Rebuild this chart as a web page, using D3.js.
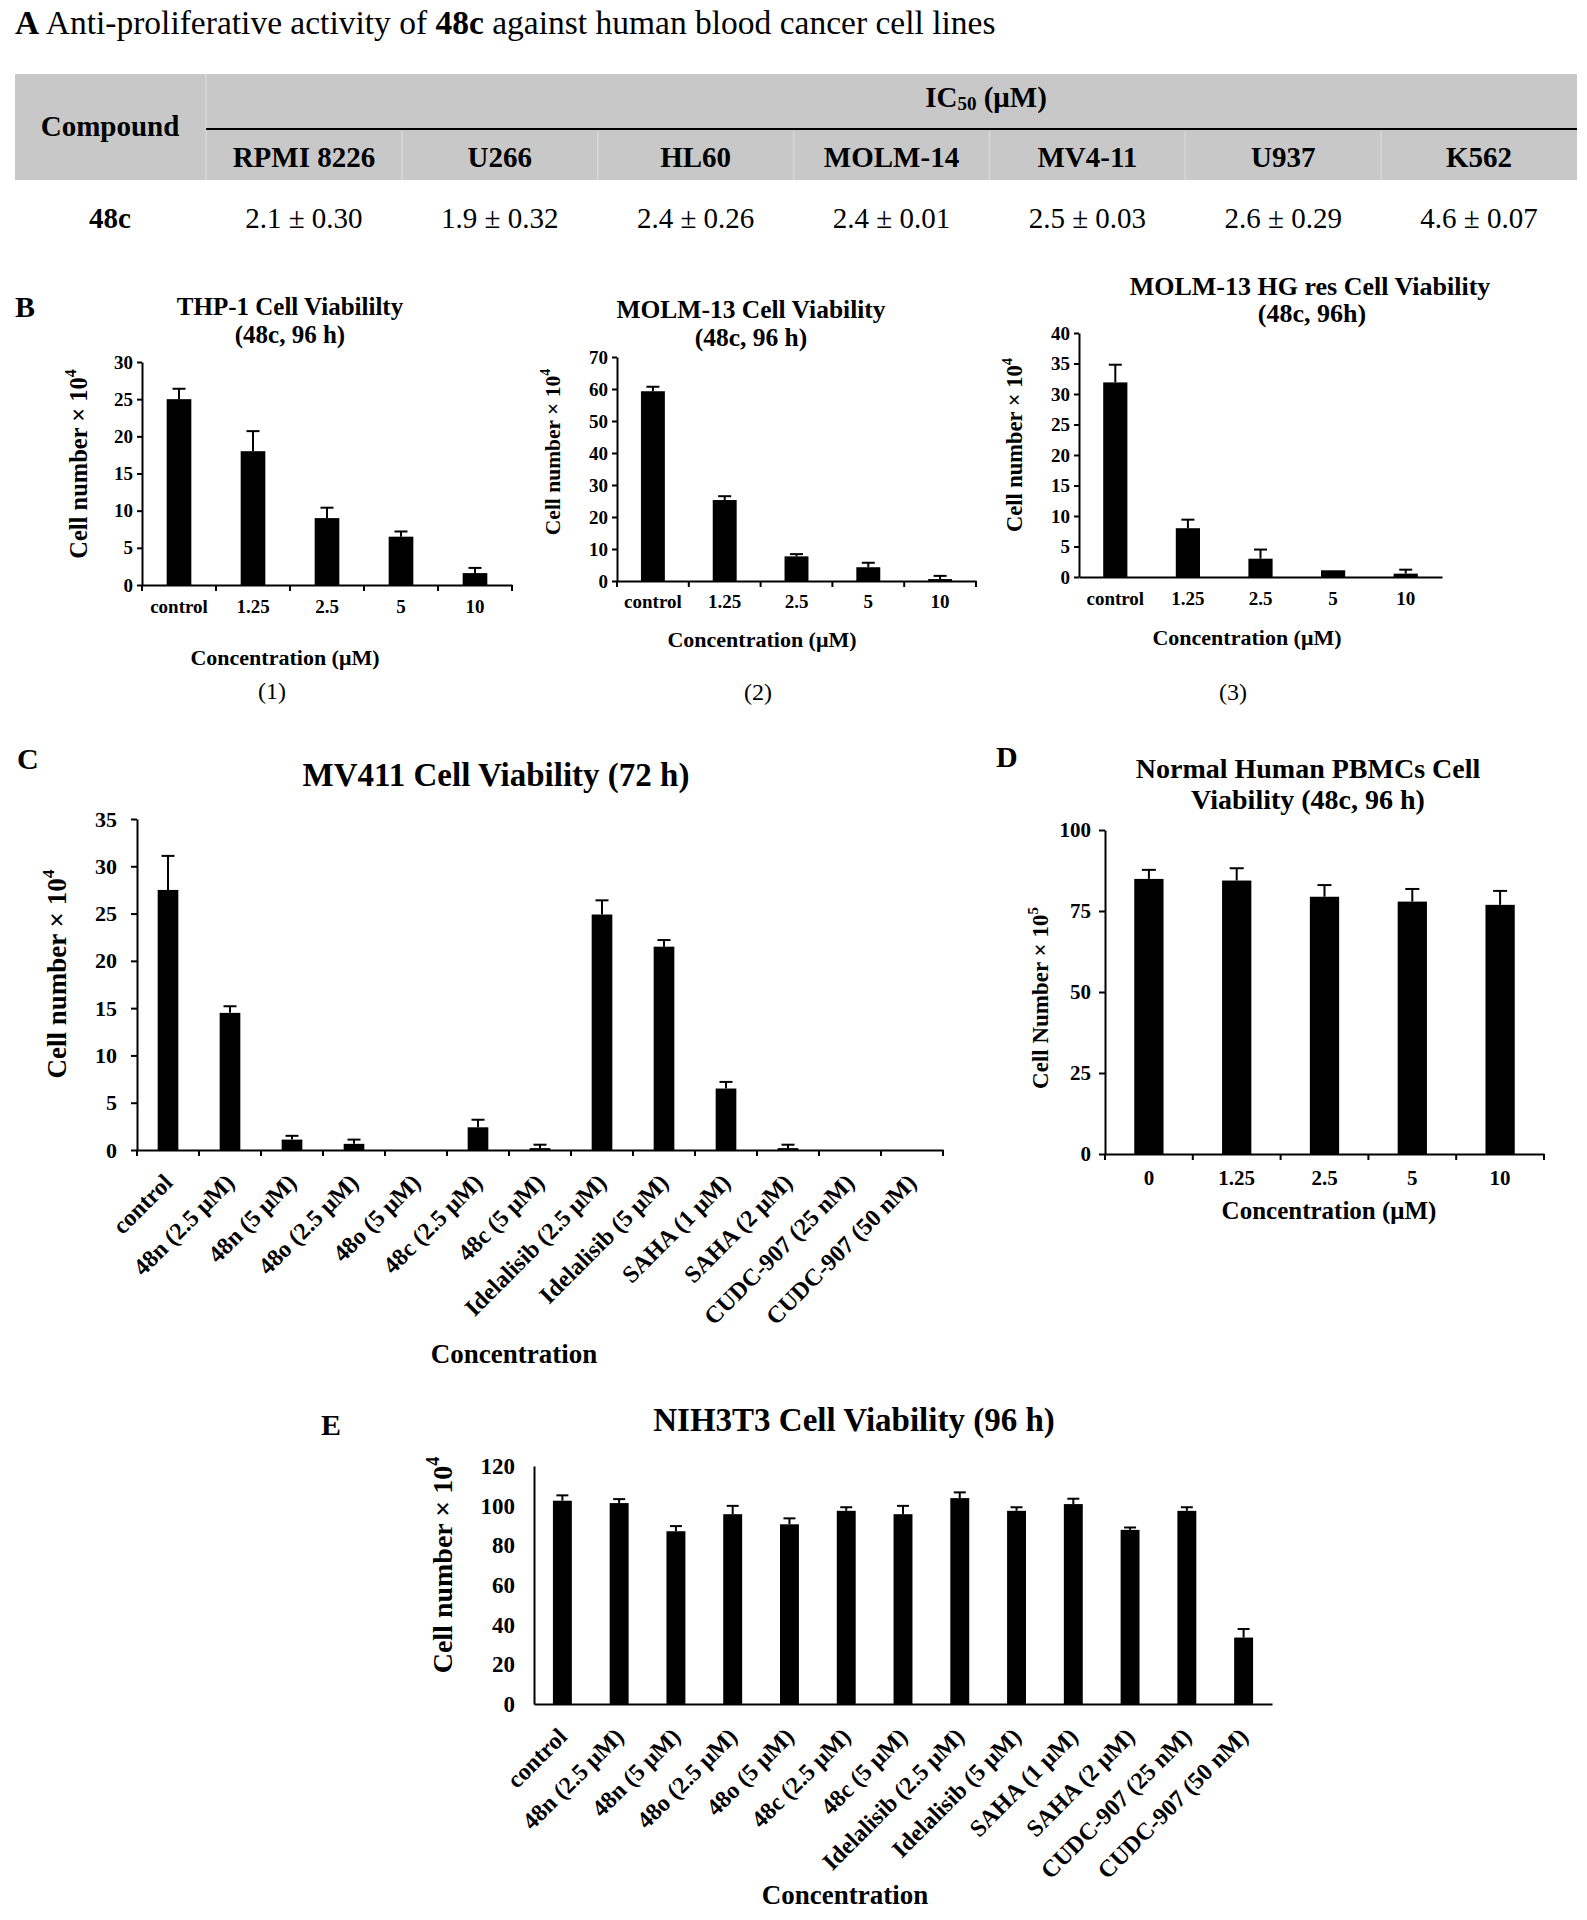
<!DOCTYPE html>
<html><head><meta charset="utf-8">
<script src="https://cdn.jsdelivr.net/npm/d3@7"></script>
<style>
body{margin:0;background:#fff}
svg{display:block}
text{font-family:"Liberation Serif","Times New Roman",serif;fill:#000}
</style>
</head><body>
<svg id="c" width="1587" height="1920"></svg>
<script>
// ---------- DATA ----------
const tableCellLines = ["RPMI 8226","U266","HL60","MOLM-14","MV4-11","U937","K562"];
const tableIC50 = ["2.1 ± 0.30","1.9 ± 0.32","2.4 ± 0.26","2.4 ± 0.01","2.5 ± 0.03","2.6 ± 0.29","4.6 ± 0.07"];

const doseCats = ["control","1.25","2.5","5","10"];
const thp1Values = [25.0,18.0,9.0,6.5,1.6];
const thp1Errors = [1.4,2.7,1.4,0.7,0.7];
const thp1Ticks = [0,5,10,15,20,25,30];

const molm13Values = [59.3,25.3,7.7,4.3,0.6];
const molm13Errors = [1.4,1.2,0.7,1.4,1.0];
const molm13Ticks = [0,10,20,30,40,50,60,70];

const molm13resValues = [31.9,8.0,3.0,1.1,0.55];
const molm13resErrors = [2.9,1.4,1.5,0,0.65];
const molm13resTicks = [0,5,10,15,20,25,30,35,40];

const treatmentCats = ["control","48n (2.5 μM)","48n (5 μM)","48o (2.5 μM)","48o (5 μM)","48c (2.5 μM)","48c (5 μM)","Idelalisib (2.5 μM)","Idelalisib (5 μM)","SAHA (1 μM)","SAHA (2 μM)","CUDC-907 (25 nM)","CUDC-907 (50 nM)"];
const mv411Values = [27.5,14.5,1.1,0.65,0,2.4,0.2,24.9,21.5,6.5,0.2,0,0];
const mv411Errors = [3.6,0.7,0.4,0.45,0,0.8,0.36,1.5,0.7,0.7,0.36,0,0];
const mv411Ticks = [0,5,10,15,20,25,30,35];

const pbmcCats = ["0","1.25","2.5","5","10"];
const pbmcValues = [84.9,84.4,79.4,77.9,76.9];
const pbmcErrors = [2.8,3.8,3.6,3.9,4.3];
const pbmcTicks = [0,25,50,75,100];

const nih3t3Values = [102.5,101.3,87.1,95.7,90.6,97.4,95.7,103.8,97.4,100.8,87.8,97.4,33.5];
const nih3t3Errors = [2.7,2.0,2.6,4.2,3.0,1.8,4.2,2.9,1.8,2.7,1.2,1.8,4.3];
const nih3t3Ticks = [0,20,40,60,80,100,120];

// ---------- DRAWING ----------
const FONT = "Liberation Serif, Times New Roman, serif";
const svg = d3.select("#c");

function txt(x, y, s, size, weight, anchor) {
  return svg.append("text").attr("x", x).attr("y", y)
    .attr("font-size", size).attr("font-weight", weight || "normal")
    .attr("text-anchor", anchor || "middle").text(s);
}
function ylabel(cx, cy, size, base, sup) {
  const t = svg.append("text")
    .attr("transform", `translate(${cx},${cy}) rotate(-90)`)
    .attr("text-anchor", "middle").attr("dy", "0.35em")
    .attr("font-size", size).attr("font-weight", "bold");
  t.append("tspan").text(base);
  t.append("tspan").attr("font-size", size * 0.65).attr("dy", -size * 0.45).text(sup);
}

// Title A
const tA = svg.append("text").attr("x", 15).attr("y", 34).attr("font-size", 33.5);
tA.append("tspan").attr("font-weight", "bold").text("A");
tA.append("tspan").text(" Anti-proliferative activity of ");
tA.append("tspan").attr("font-weight", "bold").text("48c");
tA.append("tspan").text(" against human blood cancer cell lines");

// Table
svg.append("rect").attr("x", 15).attr("y", 74).attr("width", 1562).attr("height", 106).attr("fill", "#c8c8c8");
const colX = d3.scaleBand().domain(tableCellLines).range([206, 1577]);
svg.append("line").attr("x1", 206).attr("x2", 206).attr("y1", 74).attr("y2", 180)
  .attr("stroke", "#d8d8d8").attr("stroke-width", 1.5);
tableCellLines.slice(1).forEach(c => {
  svg.append("line").attr("x1", colX(c)).attr("x2", colX(c)).attr("y1", 131).attr("y2", 180)
    .attr("stroke", "#d8d8d8").attr("stroke-width", 1.5);
});
svg.append("line").attr("x1", 206).attr("x2", 1577).attr("y1", 129).attr("y2", 129)
  .attr("stroke", "#000").attr("stroke-width", 2);
txt(110, 136, "Compound", 29, "bold");
const ic = svg.append("text").attr("x", 986).attr("y", 107).attr("font-size", 29)
  .attr("font-weight", "bold").attr("text-anchor", "middle");
ic.append("tspan").text("IC");
ic.append("tspan").attr("font-size", 19).attr("dy", 3).text("50");
ic.append("tspan").attr("dy", -3).text(" (μM)");
tableCellLines.forEach((c, i) => {
  txt(colX(c) + colX.bandwidth() / 2, 167, c, 29, "bold");
  txt(colX(c) + colX.bandwidth() / 2, 228, tableIC50[i], 29, "normal");
});
txt(110, 228, "48c", 29, "bold");

// Bar chart helper
function barChart(o) {
  const g = svg.append("g");
  const x = d3.scaleBand().domain(o.cats).range([o.x0, o.x1]).paddingInner(2 / 3).paddingOuter(1 / 3);
  const y = d3.scaleLinear().domain([0, d3.max(o.ticks)]).range([o.yBot, o.yTop]);
  const rows = o.cats.map((c, i) => ({ c, v: o.vals[i], e: o.errs[i] }));
  g.selectAll("rect.bar").data(rows.filter(d => d.v > 0))
    .enter().append("rect")
    .attr("x", d => x(d.c)).attr("width", x.bandwidth())
    .attr("y", d => y(d.v)).attr("height", d => y(0) - y(d.v)).attr("fill", "#000");
  const eb = rows.filter(d => d.e > 0);
  const cx = d => x(d.c) + x.bandwidth() / 2;
  g.selectAll("line.eb").data(eb).enter().append("line")
    .attr("x1", cx).attr("x2", cx)
    .attr("y1", d => y(d.v)).attr("y2", d => y(d.v + d.e)).attr("stroke", "#000").attr("stroke-width", 2);
  g.selectAll("line.cap").data(eb).enter().append("line")
    .attr("x1", d => cx(d) - o.capW / 2).attr("x2", d => cx(d) + o.capW / 2)
    .attr("y1", d => y(d.v + d.e)).attr("y2", d => y(d.v + d.e)).attr("stroke", "#000").attr("stroke-width", 2);
  // y axis
  const ya = g.append("g").attr("transform", `translate(${o.x0},0)`)
    .call(d3.axisLeft(y).tickValues(o.ticks).tickSize(o.yTickLen).tickSizeOuter(0).tickPadding(o.yPad));
  ya.attr("font-family", FONT).attr("font-size", o.yFont).attr("font-weight", "bold");
  ya.selectAll("path,line").attr("stroke", "#000").attr("stroke-width", 2);
  ya.selectAll("text").attr("fill", "#000");
  // x axis
  const xa = g.append("g").attr("transform", `translate(0,${o.yBot})`)
    .call(d3.axisBottom(x).tickSize(0).tickSizeOuter(0).tickPadding(o.xPad));
  xa.attr("font-family", FONT).attr("font-size", o.xFont).attr("font-weight", "bold");
  xa.select(".domain").attr("stroke", "#000").attr("stroke-width", 2);
  xa.selectAll("text").attr("fill", "#000");
  if (o.rotate) {
    xa.selectAll(".tick text").attr("y", 0).attr("dy", null).attr("text-anchor", "end")
      .attr("transform", `translate(${o.rotDx},${o.rotDy}) rotate(-45)`);
  }
  if (o.xTickLen > 0) {
    d3.range(o.cats.length + 1).forEach(i => {
      const px = o.x0 + i * x.step();
      g.append("line").attr("x1", px).attr("x2", px).attr("y1", o.yBot).attr("y2", o.yBot + o.xTickLen)
        .attr("stroke", "#000").attr("stroke-width", 2);
    });
  }
}

// ---------- Panel B ----------
txt(15, 317, "B", 30, "bold", "start");

// B1
txt(290, 315, "THP-1 Cell Viabililty", 25, "bold");
txt(290, 343, "(48c, 96 h)", 25, "bold");
barChart({ cats: doseCats, vals: thp1Values, errs: thp1Errors, ticks: thp1Ticks,
  x0: 142, x1: 512, yTop: 362, yBot: 585, yTickLen: 5, yPad: 4, yFont: 19,
  xPad: 15, xFont: 19, xTickLen: 6, capW: 13 });
ylabel(78, 464, 24.5, "Cell number × 10", "4");
txt(285, 665, "Concentration (μM)", 22, "bold");
txt(272, 699, "(1)", 24, "normal");

// B2
txt(751, 318, "MOLM-13 Cell Viability", 25.5, "bold");
txt(751, 346, "(48c, 96 h)", 25.5, "bold");
barChart({ cats: doseCats, vals: molm13Values, errs: molm13Errors, ticks: molm13Ticks,
  x0: 617, x1: 976, yTop: 357, yBot: 581, yTickLen: 5, yPad: 4, yFont: 19,
  xPad: 14, xFont: 19, xTickLen: 6, capW: 13 });
ylabel(552, 452, 21.5, "Cell number × 10", "4");
txt(762, 647, "Concentration (μM)", 22, "bold");
txt(758, 700, "(2)", 24, "normal");

// B3
txt(1310, 295, "MOLM-13 HG res Cell Viability", 26, "bold");
txt(1312, 322, "(48c, 96h)", 26, "bold");
barChart({ cats: doseCats, vals: molm13resValues, errs: molm13resErrors, ticks: molm13resTicks,
  x0: 1079, x1: 1442, yTop: 333, yBot: 577, yTickLen: 5, yPad: 4, yFont: 19,
  xPad: 15, xFont: 19, xTickLen: 0, capW: 13 });
ylabel(1014, 445, 22.5, "Cell number × 10", "4");
txt(1247, 645, "Concentration (μM)", 22, "bold");
txt(1233, 700, "(3)", 24, "normal");

// ---------- Panel C ----------
txt(17, 769, "C", 30, "bold", "start");
txt(496, 786, "MV411 Cell Viability (72 h)", 33, "bold");
barChart({ cats: treatmentCats, vals: mv411Values, errs: mv411Errors, ticks: mv411Ticks,
  x0: 137, x1: 943, yTop: 819, yBot: 1150, yTickLen: 6, yPad: 14, yFont: 22,
  xPad: 0, xFont: 24, xTickLen: 6, capW: 13, rotate: true, rotDx: 6, rotDy: 34 });
ylabel(57, 974, 27, "Cell number × 10", "4");
txt(514, 1363, "Concentration", 27, "bold");

// ---------- Panel D ----------
txt(996, 767, "D", 30, "bold", "start");
txt(1308, 778, "Normal Human PBMCs Cell", 28, "bold");
txt(1308, 809, "Viability (48c, 96 h)", 28, "bold");
barChart({ cats: pbmcCats, vals: pbmcValues, errs: pbmcErrors, ticks: pbmcTicks,
  x0: 1105, x1: 1544, yTop: 830, yBot: 1154, yTickLen: 6, yPad: 8, yFont: 21,
  xPad: 16, xFont: 21, xTickLen: 6, capW: 14 });
ylabel(1040, 998, 23, "Cell Number × 10", "5");
txt(1329, 1219, "Concentration (μM)", 25, "bold");

// ---------- Panel E ----------
txt(321, 1435, "E", 30, "bold", "start");
txt(854, 1431, "NIH3T3 Cell Viability (96 h)", 33, "bold");
barChart({ cats: treatmentCats, vals: nih3t3Values, errs: nih3t3Errors, ticks: nih3t3Ticks,
  x0: 534, x1: 1272, yTop: 1466, yBot: 1704, yTickLen: 0, yPad: 19, yFont: 23,
  xPad: 0, xFont: 24, xTickLen: 0, capW: 12, rotate: true, rotDx: 6, rotDy: 34 });
ylabel(442, 1565, 28, "Cell number × 10", "4");
txt(845, 1904, "Concentration", 27, "bold");
</script>
</body></html>
